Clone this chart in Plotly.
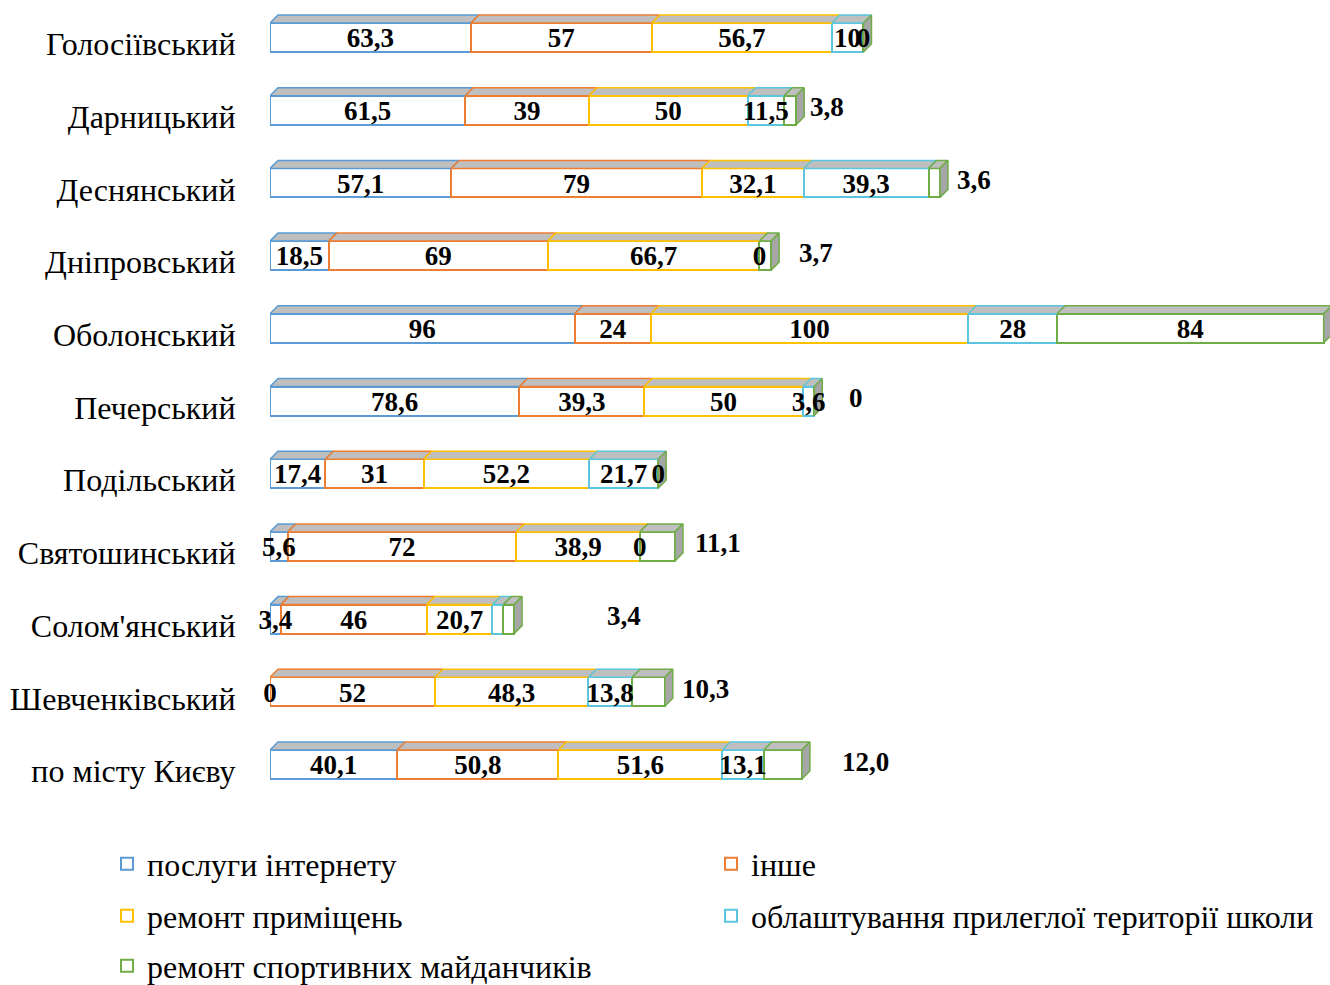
import plotly.graph_objects as go

# ---------------- data ----------------
districts = ["Голосіївський", "Дарницький", "Деснянський", "Дніпровський", "Оболонський",
             "Печерський", "Подільський", "Святошинський", "Солом'янський",
             "Шевченківський", "по місту Києву"]
series_names = ["послуги інтернету", "інше", "ремонт приміщень",
                "облаштування прилеглої території школи", "ремонт спортивних майданчиків"]
internet = [63.3, 61.5, 57.1, 18.5, 96, 78.6, 17.4, 5.6, 3.4, 0, 40.1]
other = [57, 39, 79, 69, 24, 39.3, 31, 72, 46, 52, 50.8]
premises = [56.7, 50, 32.1, 66.7, 100, 50, 52.2, 38.9, 20.7, 48.3, 51.6]
territory = [10, 11.5, 39.3, 0, 28, 3.6, 21.7, 0, 3.4, 13.8, 13.1]
sports = [0, 3.8, 3.6, 3.7, 84, 0, 0, 11.1, 3.4, 10.3, 12.0]
series = [internet, other, premises, territory, sports]

# ---------------- styles ----------------
colors = ["#5B9BD5", "#ED7D31", "#FFC000", "#5BC5DF", "#70AD47"]
TOP_GRAY = "#BFBFBF"
SIDE_GRAY = "#A6A6A6"
FONT = "Liberation Serif"
LABEL_SIZE = 27
CAT_SIZE = 32
# which labels are hidden (series index, row index)
hidden_labels = {(3, 8)}
# placement of the last-series labels: centered in segment or outside the bar
sports_label_mode = ["center", "outside", "outside", "outside", "center", "outside",
                     "center", "outside", "outside", "outside", "outside"]
sports_label_shift = [0, 12, 15, 26, 0, 33, 0, 18, 91, 15, 38]

W, H = 1330, 985
ML, MR, MT, MB = 270, 0, 0, 185
XMAX = 334.0
plot_w = W - ML - MR
plot_h = H - MT - MB
row_px = 72.7
first_px = 37.5
y_top = -first_px / row_px
y_bot = (plot_h - first_px) / row_px
px_x = plot_w / XMAX
bar_w = 29 / row_px
dx = 8 / px_x
dy = 8 / row_px
label_dy = 3 / row_px


def fmt(v, row):
    if row == len(districts) - 1:
        s = f"{v:.1f}"
    else:
        s = f"{v:g}"
    return s.replace(".", ",")


n = len(districts)
ys = list(range(n))
fig = go.Figure()

# cumulative starts
starts = []
acc = [0.0] * n
for s in series:
    starts.append(acc[:])
    acc = [a + v for a, v in zip(acc, s)]
totals = acc

legend_ids = ["legend", "legend2", "legend3", "legend4", "legend5"]

# front faces
for k, s in enumerate(series):
    fig.add_trace(go.Bar(
        x=s, y=ys, orientation="h", name=series_names[k], width=bar_w,
        marker=dict(color="white", line=dict(color=colors[k], width=2)),
        legend=legend_ids[k], hoverinfo="skip", cliponaxis=False))

# top faces
for k, s in enumerate(series):
    px_, py_ = [], []
    for i in range(n):
        if s[i] <= 0:
            continue
        x0 = starts[k][i]
        x1 = x0 + s[i]
        yt = i - bar_w / 2
        px_ += [x0, x1, x1 + dx, x0 + dx, x0, None]
        py_ += [yt, yt, yt - dy, yt - dy, yt, None]
    fig.add_trace(go.Scatter(x=px_, y=py_, mode="lines", fill="toself",
                             fillcolor=TOP_GRAY, line=dict(color=colors[k], width=1.5),
                             showlegend=False, hoverinfo="skip", cliponaxis=False))

# side faces at the bar ends
sx, sy = [], []
for i in range(n):
    xe = totals[i]
    yt = i - bar_w / 2
    yb = i + bar_w / 2
    sx += [xe, xe + dx, xe + dx, xe, xe, None]
    sy += [yt, yt - dy, yb - dy, yb, yt, None]
fig.add_trace(go.Scatter(x=sx, y=sy, mode="lines", fill="toself", fillcolor=SIDE_GRAY,
                         line=dict(color=colors[4], width=1.5), showlegend=False,
                         hoverinfo="skip", cliponaxis=False))

# labels centered in segments
tx, ty, tt = [], [], []
for k, s in enumerate(series):
    for i in range(n):
        if (k, i) in hidden_labels:
            continue
        if k == 4 and sports_label_mode[i] != "center":
            continue
        tx.append(starts[k][i] + s[i] / 2)
        ty.append(i + label_dy)
        tt.append(fmt(s[i], i))
fig.add_trace(go.Scatter(x=tx, y=ty, text=tt, mode="text", textposition="middle center",
                         textfont=dict(family=FONT, size=LABEL_SIZE, color="black", weight="bold"),
                         showlegend=False, hoverinfo="skip", cliponaxis=False))

# outside labels for the last series
for i in range(n):
    if sports_label_mode[i] == "outside":
        fig.add_annotation(x=totals[i], y=i, text=fmt(sports[i], i), showarrow=False,
                           xanchor="left", yanchor="middle",
                           xshift=sports_label_shift[i], yshift=3,
                           font=dict(family=FONT, size=LABEL_SIZE, color="black", weight="bold"))

fig.update_layout(
    barmode="stack",
    width=W, height=H,
    margin=dict(l=ML, r=MR, t=MT, b=MB, pad=0, autoexpand=False),
    paper_bgcolor="white", plot_bgcolor="white",
    xaxis=dict(range=[0, XMAX], visible=False, fixedrange=True),
    yaxis=dict(range=[y_bot, y_top], tickvals=[i + 0.09 for i in ys], ticktext=districts,
               showgrid=False, zeroline=False, showline=False, automargin=False,
               ticks="outside", ticklen=27, tickcolor="rgba(0,0,0,0)",
               tickfont=dict(family=FONT, size=CAT_SIZE, color="black")),
    showlegend=True,
)

leg_pos = [(107, 864), (711, 864), (107, 916), (711, 916), (107, 966)]
for lid, (lx, ly) in zip(legend_ids, leg_pos):
    fig.update_layout({lid: dict(
        xref="container", yref="container",
        x=lx / W, y=1 - ly / H, xanchor="left", yanchor="middle",
        orientation="h", bgcolor="rgba(0,0,0,0)", borderwidth=0,
        font=dict(family=FONT, size=CAT_SIZE, color="black"))})

fig.write_html("out.html", config={"displayModeBar": False},
               post_script="document.body.style.margin='0';")
